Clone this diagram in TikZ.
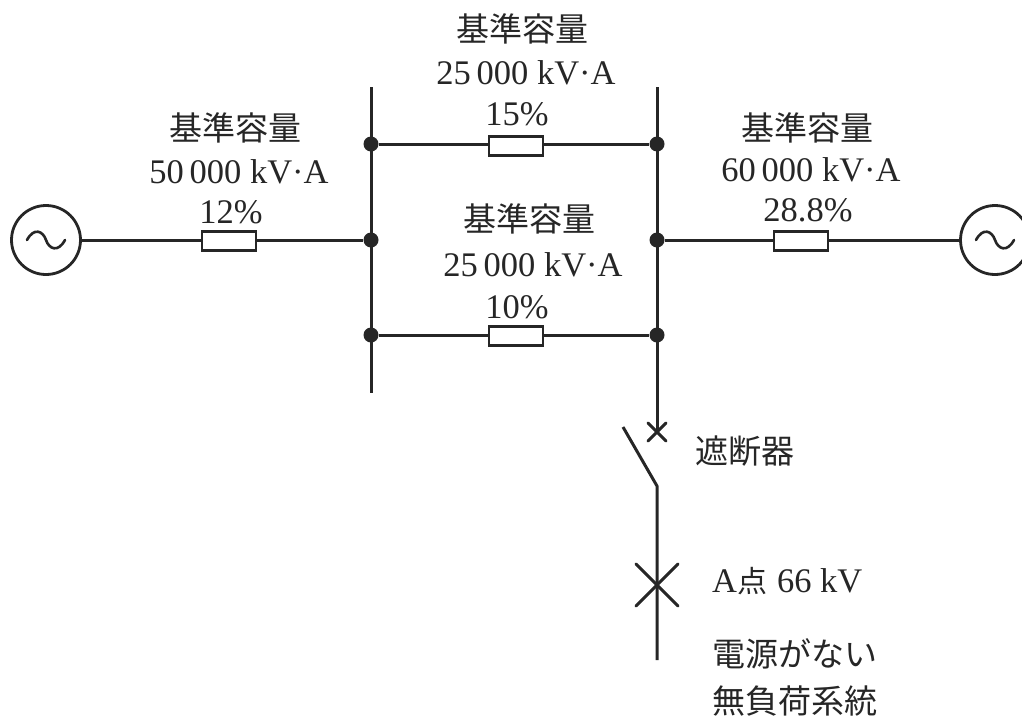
\documentclass[tikz,border=0pt]{standalone}
\usepackage{fontspec}
\setmainfont{Liberation Serif}
\newfontfamily\cjk{Noto Sans CJK JP}
\tikzset{
 wire/.style={line width=3pt,black!85},
 res/.style={draw=black!85,line width=2.6pt,fill=white,minimum width=54pt,minimum height=19pt,inner sep=0,rectangle,anchor=center},
 dotn/.style={circle,fill=black!85,inner sep=0,minimum size=15pt},
 gen/.style={circle,draw=black!85,line width=2.8pt,fill=white,minimum size=69pt,inner sep=0},
 lab/.style={font=\fontsize{34.5}{34.5}\selectfont,text=black!85,inner sep=0,anchor=center},
 jlab/.style={font=\fontsize{33}{33}\selectfont,text=black!85,inner sep=0,anchor=center},
}
\newcommand{\Jk}[1]{{\cjk #1}}
\begin{document}
\begin{tikzpicture}[x=1pt,y=-1pt]
\useasboundingbox (0,0) rectangle (1022,718);
\clip (0,0) rectangle (1022,718);
\coordinate (t1) at (371,87); \coordinate (b1) at (371,393);
\coordinate (t2) at (657,87);
\node[dotn] (d1) at (371,144) {}; \node[dotn] (d2) at (657,144) {};
\node[dotn] (d3) at (371,240) {}; \node[dotn] (d4) at (657,240) {};
\node[dotn] (d5) at (371,335) {}; \node[dotn] (d6) at (657,335) {};
\node[gen] (g1) at (46,240) {}; \node[gen] (g2) at (995,240) {};
\coordinate (sw1) at (657,431); \coordinate (sw2) at (657,486); \coordinate (sw3) at (623,427);
\coordinate (e) at (657,660);
\draw[wire] (t1)--(b1);
\draw[wire] (t2)--(sw1);
\draw[wire] (d1)--(d2); \draw[wire] (d5)--(d6);
\draw[wire] (g1)--(d3); \draw[wire] (d4)--(g2);
\draw[wire,line join=round] (sw3)--(sw2)--(e);
\node[res] (r1) at (229,241) {};
\node[res] (r2) at (516,146) {};
\node[res] (r3) at (516,336) {};
\node[res] (r4) at (801,241) {};
\draw[wire,line cap=round] (648,423)--(666,441); \draw[wire,line cap=round] (666,423)--(648,441);
\draw[wire,line cap=round] (636,564)--(678,606); \draw[wire,line cap=round] (678,564)--(636,606);
\draw[wire,line cap=round,line width=2.6pt] (27,240) .. controls (34,227) and (43,231) .. (46,240) .. controls (49,249) and (58,253) .. (65,240);
\draw[wire,line cap=round,line width=2.6pt] (976,240) .. controls (983,227) and (992,231) .. (995,240) .. controls (998,249) and (1007,253) .. (1014,240);
\node[jlab] (a1) at (235,128) {\Jk{基準容量}};
\node[lab] (a2) at (239,172) {50\,000 kV·A};
\node[lab] (a3) at (231,212) {12\%};
\node[jlab] (b1a) at (522,29) {\Jk{基準容量}};
\node[lab] (b2a) at (526,73) {25\,000 kV·A};
\node[lab] (b3a) at (517,114) {15\%};
\node[jlab] (c1) at (529,219) {\Jk{基準容量}};
\node[lab] (c2) at (533,265) {25\,000 kV·A};
\node[lab] (c3) at (517,307) {10\%};
\node[jlab] (e1) at (807,128) {\Jk{基準容量}};
\node[lab] (e2) at (811,170) {60\,000 kV·A};
\node[lab] (e3) at (808,210) {28.8\%};
\node[jlab,anchor=west] (s1) at (695,451) {\Jk{遮断器}};
\node[lab,anchor=west] (s2) at (712,581) {A{\fontsize{30}{30}\selectfont\Jk{点}}\hspace{10pt}66 kV};
\node[jlab,anchor=west] (s3) at (712,654) {\Jk{電源がない}};
\node[jlab,anchor=west] (s4) at (712,701) {\Jk{無負荷系統}};
\end{tikzpicture}
\end{document}
